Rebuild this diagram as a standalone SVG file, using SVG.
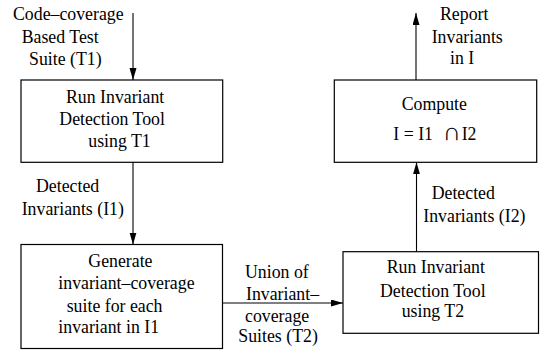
<svg xmlns="http://www.w3.org/2000/svg" width="540" height="351" viewBox="0 0 540 351">
<style>
text{font-family:"Liberation Serif","Times New Roman",Tinos,serif;font-size:17.8px;fill:#000}
.box{fill:#fff;stroke:#000;stroke-width:1.2}
.edge{stroke:#000;stroke-width:1.1;fill:none;marker-end:url(#ah)}
</style>
<defs>
<marker id="ah" markerUnits="userSpaceOnUse" markerWidth="13" markerHeight="8" refX="12" refY="3.5" orient="auto">
<path d="M0,0 L12,3.5 L0,7 z" fill="#000"/>
</marker>
</defs>
<rect width="540" height="351" fill="#fff"/>
<g id="connectors">
<line class="edge" x1="133" y1="13" x2="133" y2="80"/>
<line class="edge" x1="133" y1="162.3" x2="133" y2="244.5"/>
<line class="edge" x1="222.5" y1="303" x2="343" y2="303"/>
<line class="edge" x1="416.5" y1="251.7" x2="416.5" y2="162.3"/>
<line class="edge" x1="416" y1="80" x2="416" y2="13"/>
</g>
<g id="label-t1">
<text x="13" y="20">Code–coverage</text>
<text x="21.7" y="42.7">Based Test</text>
<text x="29" y="65">Suite (T1)</text>
</g>
<g id="node-run1">
<rect class="box" x="21" y="80" width="201.7" height="82.3"/>
<text x="66" y="103">Run Invariant</text>
<text x="59.3" y="125">Detection Tool</text>
<text x="88.3" y="147">using T1</text>
</g>
<g id="label-i1">
<text x="36" y="191.7">Detected</text>
<text x="21.7" y="215">Invariants (I1)</text>
</g>
<g id="node-generate">
<rect class="box" x="21" y="244.5" width="201.5" height="104"/>
<text x="88.3" y="266.7">Generate</text>
<text x="58.3" y="289.3">invariant–coverage</text>
<text x="66.7" y="311.7">suite for each</text>
<text x="58.3" y="333.3">invariant in I1</text>
</g>
<g id="label-t2">
<text x="245" y="278.3">Union of</text>
<text x="246" y="300">Invariant–</text>
<text x="245" y="321.7">coverage</text>
<text x="238.3" y="341.7">Suites (T2)</text>
</g>
<g id="node-run2">
<rect class="box" x="343" y="251.7" width="195.5" height="81.6"/>
<text x="386.7" y="273.3">Run Invariant</text>
<text x="380" y="296.7">Detection Tool</text>
<text x="401.7" y="316.7">using T2</text>
</g>
<g id="label-i2">
<text x="431.7" y="199.3">Detected</text>
<text x="423.3" y="221.7">Invariants (I2)</text>
</g>
<g id="node-compute">
<rect class="box" x="334.3" y="80" width="202.4" height="82.3"/>
<text x="401.7" y="110">Compute</text>
<text x="393.3" y="140">I = I1</text>
<text x="442.5" y="140" style="font-size:25px">∩</text>
<text x="461.7" y="140">I2</text>
</g>
<g id="label-report">
<text x="440" y="20">Report</text>
<text x="431.7" y="42.7">Invariants</text>
<text x="450" y="64">in I</text>
</g>
</svg>
